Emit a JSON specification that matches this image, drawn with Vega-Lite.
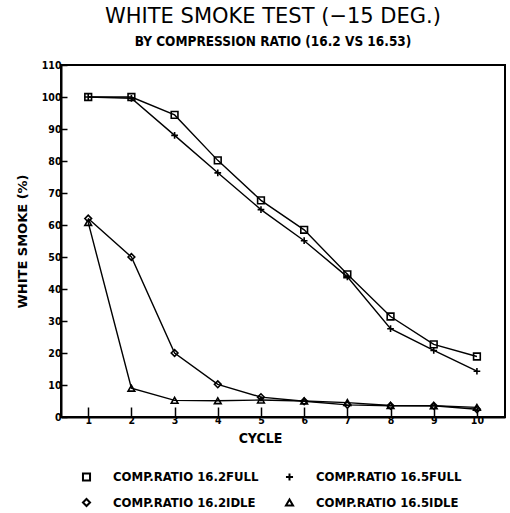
{
  "$schema": "https://vega.github.io/schema/vega-lite/v6.json",
  "autosize": "none",
  "width": 444,
  "height": 352,
  "padding": {"left": 61, "top": 65, "right": 5, "bottom": 96},
  "background": "white",
  "title": {
    "text": "WHITE SMOKE TEST (\u221215 DEG.)",
    "subtitle": "BY COMPRESSION RATIO (16.2 VS 16.53)",
    "anchor": "middle",
    "dx": -10,
    "offset": 12,
    "font": "DejaVu Sans",
    "fontSize": 21,
    "fontWeight": "normal",
    "color": "black",
    "subtitleFont": "DejaVu Sans Condensed, Liberation Sans Narrow, sans-serif",
    "subtitleFontSize": 13.5,
    "subtitleFontWeight": "bold",
    "subtitleColor": "black",
    "subtitlePadding": 8
  },
  "config": {
    "view": {"stroke": "black", "strokeWidth": 2},
    "axis": {
      "domainColor": "black",
      "domainWidth": 2,
      "tickColor": "black",
      "tickWidth": 1.5,
      "grid": false,
      "labelColor": "black",
      "titleColor": "black",
      "labelFont": "DejaVu Sans Condensed, Liberation Sans Narrow, sans-serif",
      "labelFontWeight": "bold",
      "labelFontSize": 10.5
    }
  },
  "data": {
    "values": [
      {"cycle": 1, "value": 100, "series": "COMP.RATIO 16.2FULL"},
      {"cycle": 2, "value": 100, "series": "COMP.RATIO 16.2FULL"},
      {"cycle": 3, "value": 94.4, "series": "COMP.RATIO 16.2FULL"},
      {"cycle": 4, "value": 80.2, "series": "COMP.RATIO 16.2FULL"},
      {"cycle": 5, "value": 67.7, "series": "COMP.RATIO 16.2FULL"},
      {"cycle": 6, "value": 58.5, "series": "COMP.RATIO 16.2FULL"},
      {"cycle": 7, "value": 44.6, "series": "COMP.RATIO 16.2FULL"},
      {"cycle": 8, "value": 31.4, "series": "COMP.RATIO 16.2FULL"},
      {"cycle": 9, "value": 22.7, "series": "COMP.RATIO 16.2FULL"},
      {"cycle": 10, "value": 18.9, "series": "COMP.RATIO 16.2FULL"},
      {"cycle": 1, "value": 100, "series": "COMP.RATIO 16.5FULL"},
      {"cycle": 2, "value": 99.6, "series": "COMP.RATIO 16.5FULL"},
      {"cycle": 3, "value": 88, "series": "COMP.RATIO 16.5FULL"},
      {"cycle": 4, "value": 76.3, "series": "COMP.RATIO 16.5FULL"},
      {"cycle": 5, "value": 64.8, "series": "COMP.RATIO 16.5FULL"},
      {"cycle": 6, "value": 55.1, "series": "COMP.RATIO 16.5FULL"},
      {"cycle": 7, "value": 43.8, "series": "COMP.RATIO 16.5FULL"},
      {"cycle": 8, "value": 27.6, "series": "COMP.RATIO 16.5FULL"},
      {"cycle": 9, "value": 20.8, "series": "COMP.RATIO 16.5FULL"},
      {"cycle": 10, "value": 14.3, "series": "COMP.RATIO 16.5FULL"},
      {"cycle": 1, "value": 62, "series": "COMP.RATIO 16.2IDLE"},
      {"cycle": 2, "value": 50, "series": "COMP.RATIO 16.2IDLE"},
      {"cycle": 3, "value": 20, "series": "COMP.RATIO 16.2IDLE"},
      {"cycle": 4, "value": 10.2, "series": "COMP.RATIO 16.2IDLE"},
      {"cycle": 5, "value": 6.2, "series": "COMP.RATIO 16.2IDLE"},
      {"cycle": 6, "value": 4.9, "series": "COMP.RATIO 16.2IDLE"},
      {"cycle": 7, "value": 3.8, "series": "COMP.RATIO 16.2IDLE"},
      {"cycle": 8, "value": 3.5, "series": "COMP.RATIO 16.2IDLE"},
      {"cycle": 9, "value": 3.5, "series": "COMP.RATIO 16.2IDLE"},
      {"cycle": 10, "value": 2.4, "series": "COMP.RATIO 16.2IDLE"},
      {"cycle": 1, "value": 60.8, "series": "COMP.RATIO 16.5IDLE"},
      {"cycle": 2, "value": 9, "series": "COMP.RATIO 16.5IDLE"},
      {"cycle": 3, "value": 5.2, "series": "COMP.RATIO 16.5IDLE"},
      {"cycle": 4, "value": 5.1, "series": "COMP.RATIO 16.5IDLE"},
      {"cycle": 5, "value": 5.3, "series": "COMP.RATIO 16.5IDLE"},
      {"cycle": 6, "value": 5, "series": "COMP.RATIO 16.5IDLE"},
      {"cycle": 7, "value": 4.5, "series": "COMP.RATIO 16.5IDLE"},
      {"cycle": 8, "value": 3.6, "series": "COMP.RATIO 16.5IDLE"},
      {"cycle": 9, "value": 3.5, "series": "COMP.RATIO 16.5IDLE"},
      {"cycle": 10, "value": 3, "series": "COMP.RATIO 16.5IDLE"}
    ]
  },
  "encoding": {
    "x": {
      "field": "cycle",
      "type": "quantitative",
      "scale": {"domain": [0.37, 10.65], "nice": false, "zero": false},
      "axis": {
        "title": "CYCLE",
        "values": [1, 2, 3, 4, 5, 6, 7, 8, 9, 10],
        "tickSize": -10,
        "labelPadding": 8,
        "titleFont": "DejaVu Sans Condensed, Liberation Sans Narrow, sans-serif",
        "titleFontWeight": "bold",
        "titleFontSize": 14,
        "titlePadding": 6,
        "titleX": 199
      }
    },
    "y": {
      "field": "value",
      "type": "quantitative",
      "scale": {"domain": [0, 110], "nice": false},
      "axis": {
        "title": "WHITE SMOKE (%)",
        "values": [0, 10, 20, 30, 40, 50, 60, 70, 80, 90, 100, 110],
        "tickSize": -6,
        "labelPadding": 6,
        "titleFont": "DejaVu Sans",
        "titleFontWeight": "bold",
        "titleFontSize": 13,
        "titlePadding": 12
      }
    },
    "detail": {"field": "series"}
  },
  "layer": [
    {
      "mark": {"type": "line", "color": "black", "strokeWidth": 1.4}
    },
    {
      "mark": {"type": "point", "filled": false, "strokeWidth": 1.6, "size": 45, "color": "black", "opacity": 1},
      "encoding": {
        "shape": {
          "field": "series",
          "type": "nominal",
          "scale": {
            "domain": ["COMP.RATIO 16.2FULL", "COMP.RATIO 16.5FULL", "COMP.RATIO 16.2IDLE", "COMP.RATIO 16.5IDLE"],
            "range": ["square", "M-1,0H1M0,-1V1", "diamond", "triangle-up"]
          },
          "legend": {
            "title": null,
            "orient": "none",
            "legendX": 19,
            "legendY": 405,
            "columns": 2,
            "direction": "horizontal",
            "labelFont": "DejaVu Sans Condensed, Liberation Sans Narrow, sans-serif",
            "labelFontWeight": "bold",
            "labelFontSize": 13,
            "labelColor": "black",
            "labelOffset": 20,
            "labelLimit": 300,
            "symbolSize": 50,
            "symbolStrokeColor": "black",
            "symbolStrokeWidth": 2,
            "columnPadding": 22,
            "rowPadding": 9
          }
        }
      }
    }
  ]
}
